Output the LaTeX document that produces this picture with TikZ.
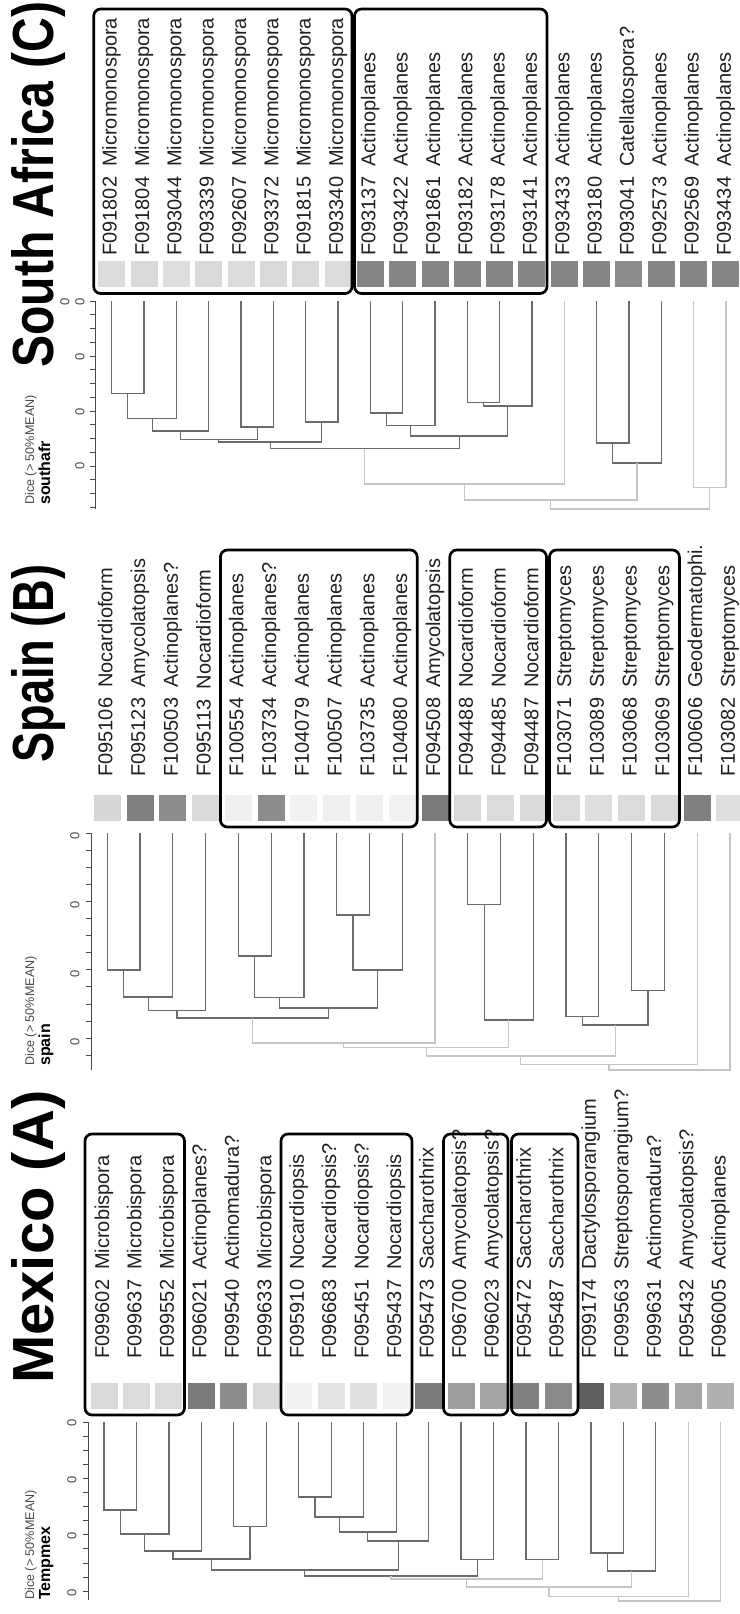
\documentclass[tikz,border=0pt]{standalone}
\usepackage{graphicx}
\usepackage{fontspec}
\setmainfont{Liberation Sans}

\definecolor{brdark}{HTML}{6B6B6B}
\definecolor{brlight}{HTML}{C6C6C6}
\definecolor{axgray}{HTML}{4A4A4A}

% leaves and merges of the dendrograms
\newcommand{\dleaf}[3]{%
  \coordinate (#1) at (#2,#3);%
  \expandafter\xdef\csname lx.#1\endcsname{#2}}
\newcommand{\dmerge}[5]{% name, left, right, level, style
  \edef\dma{\csname lx.#2\endcsname}\edef\dmb{\csname lx.#3\endcsname}%
  \pgfmathsetmacro{\dmx}{(\dma+\dmb)/2}%
  \coordinate (#1) at (\dmx,#4);%
  \expandafter\xdef\csname lx.#1\endcsname{\dmx}%
  \draw[#5] (#2) |- (#1) -| (#3);}

\begin{document}
\begin{tikzpicture}[x=1pt, y=-1pt,
    lab/.style={rotate=90, anchor=base west, inner sep=0pt, text=black!88, font=\fontsize{20}{22}\selectfont},
    sq/.style={minimum width=27pt, minimum height=26pt, inner sep=0pt},
    grp/.style={draw=black, line width=2.7pt, rounded corners=7pt},
    brd/.style={draw=brdark, line width=1.2pt},
    brl/.style={draw=brlight, line width=1.2pt},
    axl/.style={draw=axgray, line width=0.9pt},
    ticklab/.style={rotate=90, inner sep=0pt, text=axgray, font=\fontsize{13}{14}\selectfont},
    ttl/.style={rotate=90, anchor=base west, inner sep=0pt, font=\fontsize{58}{60}\selectfont\bfseries},
    dice/.style={rotate=90, anchor=base west, inner sep=0pt, text=axgray, font=\fontsize{12.6}{14}\selectfont},
    dset/.style={rotate=90, anchor=base west, inner sep=0pt, font=\fontsize{16}{18}\selectfont\bfseries}]

    \useasboundingbox (0,0) rectangle (739,1614);

    % South Africa (C)
    \node[ttl] (sattl) at (53,368) {\scalebox{0.83}[1]{South Africa (C)}};
    \node[dice] (sadice) at (34,505) {Dice (> 50\%MEAN)};
    \node[dset] (saset) at (50,505) {southafr};
    \draw[axl] (95,301) -- (95,509);
    \foreach \k in {0,...,15} \draw[axl] (95,301+13.75*\k) -- ++(-5,0);
    \foreach \yy [count=\k] in {302,357,412,466} \node[ticklab] (satk\k) at (80,\yy) {0};
    \node[ticklab] (satk0) at (65,302) {0};

    \foreach \code/\genus/\gr [count=\i from 0] in {F091802/Micromonospora/14, F091804/Micromonospora/15,
        F093044/Micromonospora/13, F093339/Micromonospora/15, F092607/Micromonospora/14,
        F093372/Micromonospora/15, F091815/Micromonospora/15, F093340/Micromonospora/14,
        F093137/Actinoplanes/48, F093422/Actinoplanes/48, F091861/Actinoplanes/48,
        F093182/Actinoplanes/48, F093178/Actinoplanes/48, F093141/Actinoplanes/48,
        F093433/Actinoplanes/48, F093180/Actinoplanes/48, F093041/Catellatospora?/45,
        F092573/Actinoplanes/48, F092569/Actinoplanes/48, F093434/Actinoplanes/48} {
        \pgfmathsetmacro\xx{111.7+32.33*\i}
        \node[sq, fill=black!\gr] (saS\i) at (\xx,274) {};
        \node[lab] (saT\i) at (\xx+5,256) {\code\hspace{.5em}\genus};
        \dleaf{saL\i}{\xx}{301}
    }
    \draw[grp] (93.7,9) rectangle (352,293.5);
    \draw[grp] (354.5,9) rectangle (547,293.5);

    \dmerge{sa1}{saL0}{saL1}{393.5}{brd}
    \dmerge{sa2}{sa1}{saL2}{418.5}{brd}
    \dmerge{sa3}{sa2}{saL3}{431}{brd}
    \dmerge{sa4}{saL4}{saL5}{427}{brd}
    \dmerge{sa5}{sa3}{sa4}{439.5}{brd}
    \dmerge{sa6}{saL6}{saL7}{422}{brd}
    \dmerge{sa7}{sa5}{sa6}{442}{brd}
    \dmerge{sa8}{saL8}{saL9}{413}{brd}
    \dmerge{sa9}{sa8}{saL10}{425.5}{brd}
    \dmerge{sa10}{saL11}{saL12}{402.5}{brd}
    \dmerge{sa11}{sa10}{saL13}{406}{brd}
    \dmerge{sa12}{sa9}{sa11}{436}{brd}
    \dmerge{sa13}{sa7}{sa12}{448.5}{brd}
    \dmerge{sa14}{sa13}{saL14}{484}{brl}
    \dmerge{sa15}{saL15}{saL16}{443}{brd}
    \dmerge{sa16}{sa15}{saL17}{463}{brd}
    \dmerge{sa17}{sa14}{sa16}{500}{brl}
    \dmerge{sa18}{saL18}{saL19}{487.5}{brl}
    \dmerge{sa19}{sa17}{sa18}{509}{brl}

    % Spain (B)
    \node[ttl] (spttl) at (53,763) {\scalebox{0.78}[1]{Spain (B)}};
    \node[dice] (spdice) at (34,1066) {Dice (> 50\%MEAN)};
    \node[dset] (spset) at (50,1066) {spain};
    \draw[axl] (91,833) -- (91,1070);
    \foreach \k in {0,...,13} \draw[axl] (91,833+17.1*\k) -- ++(-5,0);
    \foreach \yy [count=\k] in {836,905,974,1042} \node[ticklab] (sptk\k) at (75,\yy) {0};

    \foreach \code/\genus/\gr [count=\i from 0] in {F095106/Nocardioform/16, F095123/Amycolatopsis/50,
        F100503/Actinoplanes?/45, F095113/Nocardioform/15, F100554/Actinoplanes/6,
        F103734/Actinoplanes?/45, F104079/Actinoplanes/5, F100507/Actinoplanes/6,
        F103735/Actinoplanes/6, F104080/Actinoplanes/5, F094508/Amycolatopsis/52,
        F094488/Nocardioform/15, F094485/Nocardioform/14, F094487/Nocardioform/15,
        F103071/Streptomyces/14, F103089/Streptomyces/13, F103068/Streptomyces/14,
        F103069/Streptomyces/15, F100606/Geodermatophi./50, F103082/Streptomyces/13} {
        \pgfmathsetmacro\xx{107.3+32.77*\i}
        \node[sq, fill=black!\gr] (spS\i) at (\xx,808) {};
        \node[lab] (spT\i) at (\xx+5,777) {\code\hspace{.5em}\genus};
        \dleaf{spL\i}{\xx}{833}
    }
    \draw[grp] (220.4,550) rectangle (417.2,827);
    \draw[grp] (449.8,550) rectangle (546.5,827);
    \draw[grp] (549.5,550) rectangle (679.4,827);

    \dmerge{sp1}{spL0}{spL1}{970}{brd}
    \dmerge{sp2}{sp1}{spL2}{997}{brd}
    \dmerge{sp3}{sp2}{spL3}{1010.5}{brd}
    \dmerge{sp4}{spL4}{spL5}{956}{brd}
    \dmerge{sp5}{sp4}{spL6}{997.5}{brd}
    \dmerge{sp6}{spL7}{spL8}{915}{brd}
    \dmerge{sp7}{sp6}{spL9}{970}{brd}
    \dmerge{sp8}{sp5}{sp7}{1008}{brd}
    \dmerge{sp9}{sp3}{sp8}{1018}{brd}
    \dmerge{sp10}{sp9}{spL10}{1043}{brl}
    \dmerge{sp11}{spL11}{spL12}{904.5}{brd}
    \dmerge{sp12}{sp11}{spL13}{1020}{brd}
    \dmerge{sp13}{sp10}{sp12}{1047.5}{brl}
    \dmerge{sp14}{spL14}{spL15}{1016.5}{brd}
    \dmerge{sp15}{spL16}{spL17}{990.5}{brd}
    \dmerge{sp16}{sp14}{sp15}{1025}{brd}
    \dmerge{sp17}{sp13}{sp16}{1056}{brl}
    \dmerge{sp18}{sp17}{spL18}{1064.5}{brl}
    \dmerge{sp19}{sp18}{spL19}{1070}{brl}

    % Mexico (A)
    \node[ttl] (mxttl) at (53,1384) {Mexico (A)};
    \node[dice] (mxdice) at (34,1600) {Dice (> 50\%MEAN)};
    \node[dset] (mxset) at (50,1600) {Tempmex};
    \draw[axl] (88,1422) -- (88,1600);
    \foreach \k in {0,...,12} \draw[axl] (88,1422+14.1*\k) -- ++(-5,0);
    \foreach \yy [count=\k] in {1423,1479.5,1536,1592.5} \node[ticklab] (mxtk\k) at (72,\yy) {0};

    \foreach \code/\genus/\gr [count=\i from 0] in {F099602/Microbispora/15, F099637/Microbispora/14,
        F099552/Microbispora/14, F096021/Actinoplanes?/52, F099540/Actinomadura?/45,
        F099633/Microbispora/15, F095910/Nocardiopsis/5, F096683/Nocardiopsis?/11,
        F095451/Nocardiopsis?/12, F095437/Nocardiopsis/5, F095473/Saccharothrix/52,
        F096700/Amycolatopsis?/38, F096023/Amycolatopsis?/36, F095472/Saccharothrix/50,
        F095487/Saccharothrix/46, F099174/Dactylosporangium/63, F099563/Streptosporangium?/30,
        F099631/Actinomadura?/45, F095432/Amycolatopsis?/35, F096005/Actinoplanes/31} {
        \pgfmathsetmacro\xx{104+32.46*\i}
        \node[sq, fill=black!\gr] (mxS\i) at (\xx,1396) {};
        \node[lab] (mxT\i) at (\xx+5,1359) {\code\hspace{.5em}\genus};
        \dleaf{mxL\i}{\xx}{1422}
    }
    \draw[grp] (85,1134) rectangle (184.5,1415);
    \draw[grp] (281,1134) rectangle (412,1415);
    \draw[grp] (443.5,1134) rectangle (508,1415);
    \draw[grp] (511.5,1134) rectangle (578,1415);

    \dmerge{mx1}{mxL0}{mxL1}{1510}{brd}
    \dmerge{mx2}{mx1}{mxL2}{1534}{brd}
    \dmerge{mx3}{mx2}{mxL3}{1551}{brd}
    \dmerge{mx4}{mxL4}{mxL5}{1526.5}{brd}
    \dmerge{mx5}{mx3}{mx4}{1559}{brd}
    \dmerge{mx6}{mxL6}{mxL7}{1497}{brd}
    \dmerge{mx7}{mx6}{mxL8}{1517}{brd}
    \dmerge{mx8}{mx7}{mxL9}{1532}{brd}
    \dmerge{mx9}{mx8}{mxL10}{1541}{brd}
    \dmerge{mx10}{mx5}{mx9}{1570}{brd}
    \dmerge{mx11}{mxL11}{mxL12}{1559.5}{brd}
    \dmerge{mx12}{mx10}{mx11}{1576}{brd}
    \dmerge{mx13}{mxL13}{mxL14}{1559.5}{brd}
    \dmerge{mx14}{mx12}{mx13}{1579}{brl}
    \dmerge{mx15}{mxL15}{mxL16}{1553}{brd}
    \dmerge{mx16}{mx15}{mxL17}{1571}{brd}
    \dmerge{mx17}{mx14}{mx16}{1587}{brl}
    \dmerge{mx18}{mx17}{mxL18}{1596.5}{brl}
    \dmerge{mx19}{mx18}{mxL19}{1601}{brl}
\end{tikzpicture}
\end{document}
